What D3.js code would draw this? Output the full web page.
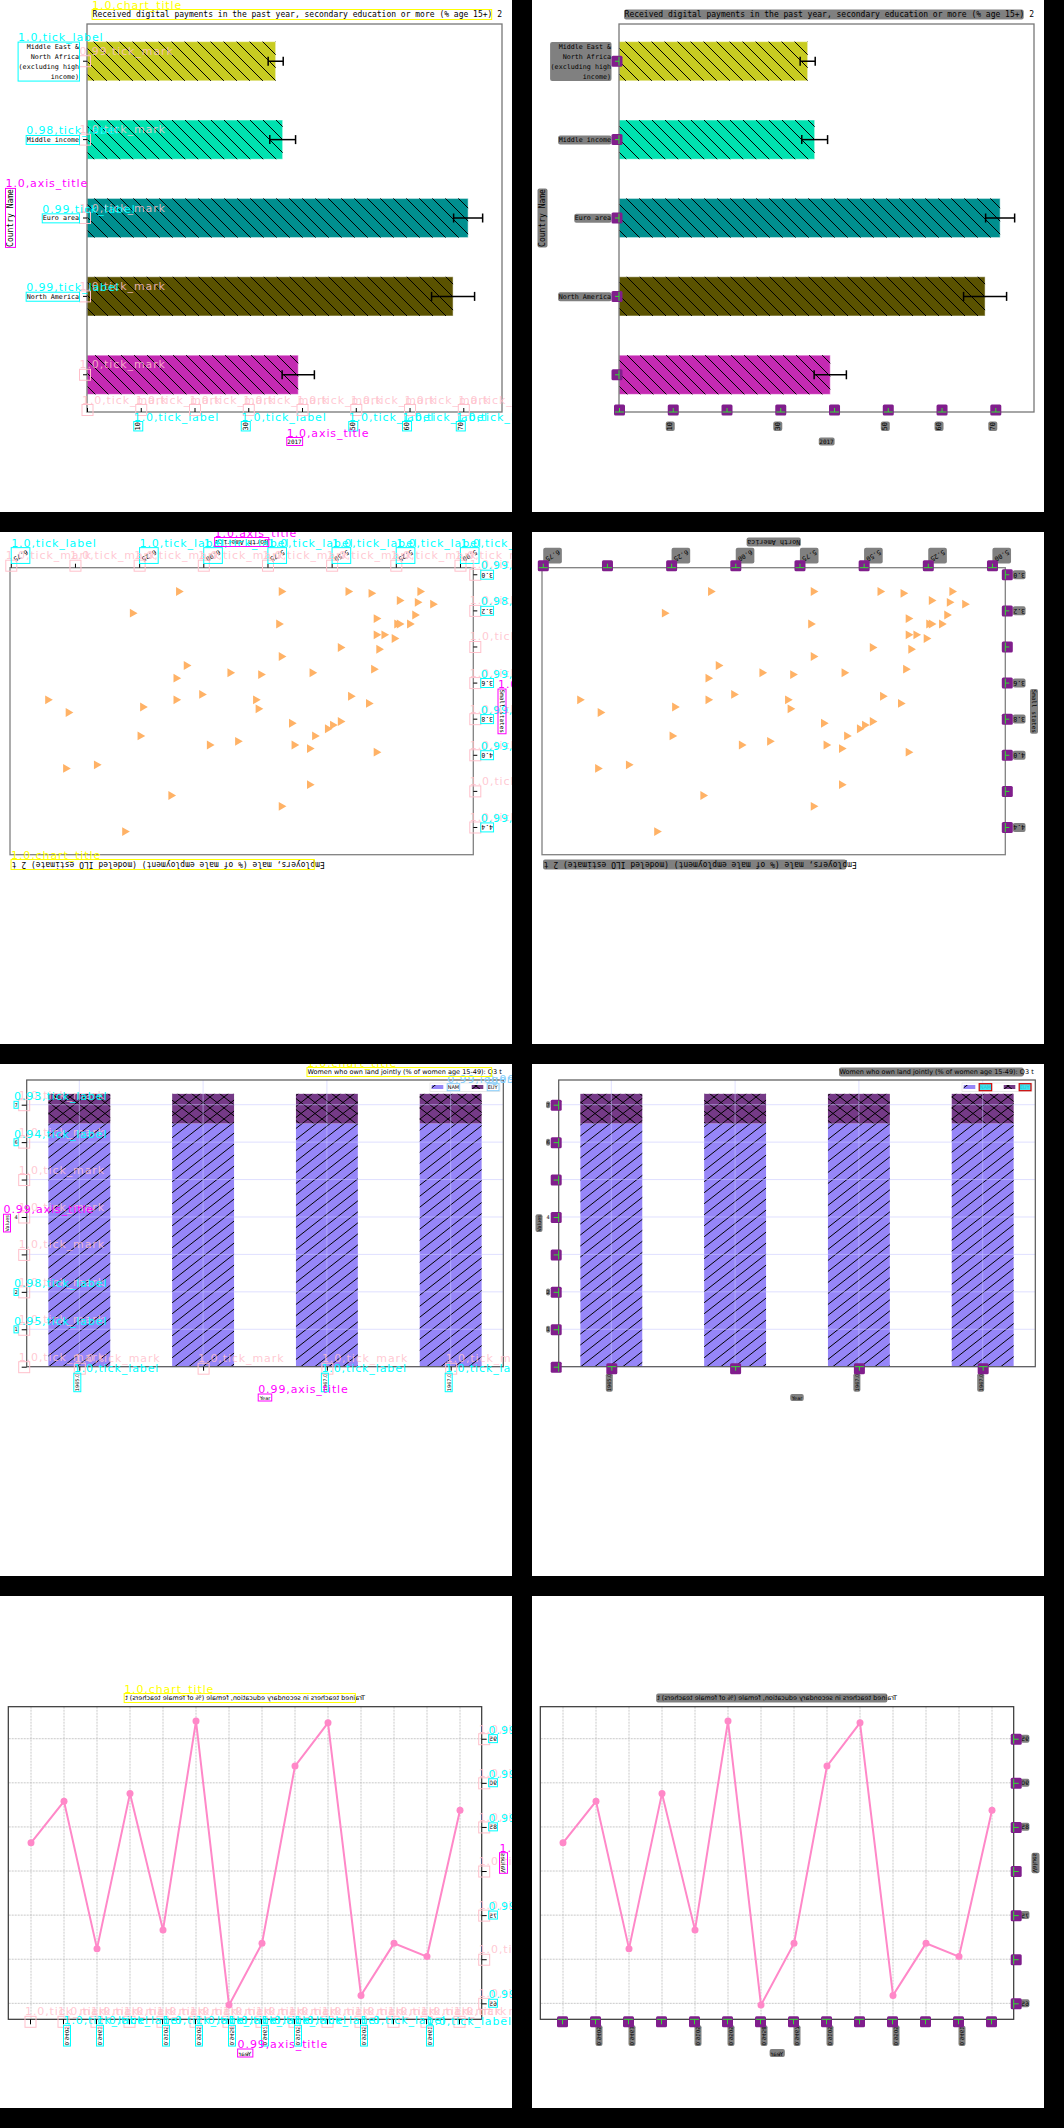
<!DOCTYPE html>
<html>
<head>
<meta charset="utf-8">
<script src="https://cdn.jsdelivr.net/npm/d3@7"></script>
<style>
  body { margin: 0; background: #000; }
  svg { display: block; }
</style>
</head>
<body>
<svg id="page" width="1064" height="2128"></svg>
<script>

// chart 1 - digital payments 2017 (horizontal bars)
var payRegions = ["Middle East &|North Africa|(excluding high|income)", "Middle income", "Euro area", "North America", ""]
var payValues = [35.1, 36.4, 70.9, 68.1, 39.3]
var payErrors = [1.4, 2.4, 2.7, 4.0, 3.0]
var payTicks = [0, 10, 20, 30, 40, 50, 60, 70]
var payTickLabels = ["", "10", "", "30", "", "50", "60", "70"]
var payLabelScores = ["1.0", "0.98", "0.99", "0.99", ""]
var payMarkScores = ["0.99", "1.0", "1.0", "1.0", "1.0"]
var payColors = ["#c8cc22", "#00e2b0", "#008f8f", "#5a5200", "#c42ab2"]

// chart 2 - employers, male (scatter, shown upside down)
var empX = [6.10, 5.70, 5.44, 5.35, 5.16, 5.24, 5.17, 5.11, 6.28, 5.18, 5.71, 5.33, 5.25, 5.24, 5.20, 5.33, 5.30, 5.26, 5.47, 5.32, 5.70, 6.07, 5.90, 5.78, 5.58, 5.34, 6.11, 6.01, 6.11, 6.61, 5.80, 5.79, 5.43, 5.36, 6.24, 6.53, 5.66, 5.47, 5.50, 5.52, 5.57, 6.25, 5.98, 5.87, 5.65, 5.59, 5.33, 6.54, 6.42, 5.59, 6.13, 5.70, 6.31]
var empY = [3.09, 3.09, 3.09, 3.10, 3.09, 3.14, 3.15, 3.16, 3.21, 3.22, 3.27, 3.24, 3.27, 3.27, 3.27, 3.33, 3.33, 3.35, 3.40, 3.41, 3.45, 3.50, 3.54, 3.55, 3.54, 3.52, 3.57, 3.66, 3.69, 3.69, 3.69, 3.74, 3.67, 3.71, 3.73, 3.76, 3.82, 3.81, 3.83, 3.85, 3.89, 3.89, 3.94, 3.92, 3.94, 3.96, 3.98, 4.07, 4.05, 4.16, 4.22, 4.28, 4.42]
var empXTicks = [5.00, 5.25, 5.50, 5.75, 6.00, 6.25, 6.50, 6.75]
var empXTickLabels = ["5.00", "5.25", "5.50", "5.75", "6.00", "6.25", "", "6.75"]
var empYTicks = [3.0, 3.2, 3.4, 3.6, 3.8, 4.0, 4.2, 4.4]
var empYTickLabels = ["3.0", "3.2", "", "3.6", "3.8", "4.0", "", "4.4"]
var empYScores = ["0.99", "0.98", "", "0.99", "0.99", "0.99", "", "0.99"]

// chart 3 - women who own land jointly (stacked bars)
var landYears = [1965, 1966, 1967, 1968]
var landXTickLabels = ["1965.0", "", "1967.0", "1967.0"]
var landSeries = ["NAM", "EUY"]
var landNAM = [6.5, 6.5, 6.5, 6.5]
var landEUY = [0.79, 0.79, 0.79, 0.79]
var landYTicks = [0, 1, 2, 3, 4, 5, 6, 7]
var landYTickLabels = ["", "1", "2", "", "4", "", "6", "7"]
var landYScores = ["", "0.95", "0.98", "", "", "", "0.94", "0.93"]

// chart 4 - trained teachers (line, shown mirrored)
var teachValues = [86.9, 70.3, 71.8, 65.9, 96.8, 91.9, 71.8, 64.8, 97.0, 73.3, 88.8, 71.2, 87.9, 83.2]
var teachXTickLabels = ["", "0.9461", "", "0.9505", "", "0.9105", "0.9467", "0.9458", "0.9505", "0.9105", "", "0.9463", "0.9405", ""]
var teachYTicks = [65, 70, 75, 80, 85, 90, 95]
var teachYTickLabels = ["65", "", "75", "", "85", "90", "95"]

var mono = "DejaVu Sans Mono"
var sans = "DejaVu Sans"
var kindColors = { chart_title: "#ffff00", axis_title: "#ff00ff", tick_label: "#00ffff", tick_mark: "#ffc0cb", legend_label: "#87cefa" }

var svg = d3.select("#page")
svg.append("rect").attr("width", 1064).attr("height", 2128).attr("fill", "#000")
var defs = svg.append("defs")

function hatch(id, w, h, d) {
  defs.append("pattern").attr("id", id).attr("patternUnits", "userSpaceOnUse")
    .attr("width", w).attr("height", h)
    .append("path").attr("d", d).attr("stroke", "#000").attr("stroke-width", 1).attr("fill", "none")
}
hatch("backslash", 13, 13, "M0,0L13,13M10.4,-2.6L15.6,2.6M-2.6,10.4L2.6,15.6")
hatch("slash", 14, 11, "M0,11L14,0M-2.8,2.2L2.8,-2.2M11.2,13.2L16.8,8.8")
hatch("cross", 14, 11, "M0,11L14,0M-2.8,2.2L2.8,-2.2M11.2,13.2L16.8,8.8M0,0L14,11M11.2,-2.2L16.8,2.2M-2.8,8.8L2.8,13.2")

function tag(sel, kind, score) {
  sel.attr("data-kind", kind).attr("data-score", score)
}

function makePanel(row, col) {
  var x0 = col * 532, y0 = row * 532
  var id = "clip" + row + "_" + col
  defs.append("clipPath").attr("id", id).append("rect").attr("width", 512).attr("height", 512)
  var p = svg.append("g").attr("transform", "translate(" + x0 + "," + y0 + ")").attr("clip-path", "url(#" + id + ")")
  p.append("rect").attr("width", 512).attr("height", 512).attr("fill", "#fff")
  return { x0: x0, y0: y0, under: p.append("g"), chart: p.append("g"), over: p.append("g"), mode: col == 0 ? "annot" : "mask" }
}

function drawPayments(g) {
  var x = d3.scaleLinear().domain([0, 77.2]).range([87, 502])
  var y = d3.scaleBand().domain(d3.range(payValues.length)).range([24, 412]).paddingInner(0.5).paddingOuter(0.225)

  var bars = g.append("g").selectAll("g").data(payValues).join("g")
  bars.append("rect").attr("x", x(0)).attr("y", (d, i) => y(i))
    .attr("width", d => x(d) - x(0)).attr("height", y.bandwidth())
    .attr("fill", (d, i) => payColors[i]).attr("stroke", "#fff").attr("stroke-opacity", 0.5)
  bars.append("rect").attr("x", x(0)).attr("y", (d, i) => y(i))
    .attr("width", d => x(d) - x(0)).attr("height", y.bandwidth()).attr("fill", "url(#backslash)")

  // error bars
  bars.each(function (d, i) {
    var cy = y(i) + y.bandwidth() / 2, lo = x(d - payErrors[i]), hi = x(d + payErrors[i])
    var e = d3.select(this).append("g").attr("stroke", "#000").attr("stroke-width", 1.5)
    e.append("line").attr("x1", lo).attr("x2", hi).attr("y1", cy).attr("y2", cy)
    e.append("line").attr("x1", lo).attr("x2", lo).attr("y1", cy - 4.5).attr("y2", cy + 4.5)
    e.append("line").attr("x1", hi).attr("x2", hi).attr("y1", cy - 4.5).attr("y2", cy + 4.5)
  })

  g.append("rect").attr("x", 87).attr("y", 24).attr("width", 415).attr("height", 388)
    .attr("fill", "none").attr("stroke", "#777").attr("stroke-width", 1.3)

  var xa = g.append("g").attr("transform", "translate(0,412)")
    .call(d3.axisBottom(x).tickValues(payTicks).tickFormat((d, i) => payTickLabels[i]).tickSize(-4).tickSizeOuter(0))
  xa.attr("font-family", mono).attr("font-size", 7)
  xa.select(".domain").remove()
  tag(xa.selectAll(".tick line"), "tick_mark", "1.0")
  xa.selectAll(".tick text").attr("y", null).attr("dy", null).attr("text-anchor", "end")
    .attr("transform", "translate(-1,10) rotate(-90)")
  tag(xa.selectAll(".tick text").filter((d, i) => payTickLabels[i] != ""), "tick_label", "1.0")

  var ya = g.append("g").attr("transform", "translate(87,0)")
    .call(d3.axisLeft(y).tickFormat(() => "").tickSize(4).tickSizeOuter(0))
  ya.attr("font-family", mono).attr("font-size", 6.7)
  ya.select(".domain").remove()
  ya.selectAll(".tick line").each(function (d, i) { tag(d3.select(this), "tick_mark", payMarkScores[i]) })
  ya.selectAll(".tick text").each(function (d, i) {
    if (payRegions[i] == "") return
    var lines = payRegions[i].split("|")
    var t = d3.select(this).attr("dy", null).attr("text-anchor", "end")
    lines.forEach(function (line, k) {
      t.append("tspan").attr("x", -8).attr("y", (k - (lines.length - 1) / 2) * 10).attr("dy", "0.35em").text(line)
    })
    tag(t, "tick_label", payLabelScores[i])
  })

  tag(g.append("text").attr("x", 502).attr("y", 17).attr("text-anchor", "end")
    .attr("font-family", mono).attr("font-size", 8)
    .text("Received digital payments in the past year, secondary education or more  (% age 15+) 2"), "chart_title", "1.0")
  tag(g.append("text").attr("x", 294.5).attr("y", 444).attr("text-anchor", "middle")
    .attr("font-family", mono).attr("font-size", 6).text("2017"), "axis_title", "1.0")
  tag(g.append("text").attr("transform", "translate(13,218) rotate(-90)").attr("text-anchor", "middle")
    .attr("font-family", mono).attr("font-size", 8).text("Country Name"), "axis_title", "1.0")
}

function drawEmployers(g) {
  g.attr("transform", "rotate(180,256,256)")
  var x = d3.scaleLinear().domain([4.952, 6.757]).range([38.7, 502])
  var y = d3.scaleLinear().domain([2.958, 4.548]).range([476.3, 189.3])

  g.append("g").selectAll("path").data(empX).join("path")
    .attr("d", d3.symbol().type(d3.symbolTriangle).size(34))
    .attr("transform", (d, i) => "translate(" + x(d) + "," + y(empY[i]) + ") rotate(-90)")
    .attr("fill", "#ffb266")

  g.append("rect").attr("x", 38.7).attr("y", 189.3).attr("width", 463.3).attr("height", 287)
    .attr("fill", "none").attr("stroke", "#808080").attr("stroke-width", 1.3)

  var xa = g.append("g").attr("transform", "translate(0,476.3)")
    .call(d3.axisBottom(x).tickValues(empXTicks).tickFormat((d, i) => empXTickLabels[i]).tickSize(4).tickSizeOuter(0))
  xa.attr("font-family", mono).attr("font-size", 6.5)
  xa.select(".domain").remove()
  tag(xa.selectAll(".tick line"), "tick_mark", "1.0")
  xa.selectAll(".tick text").attr("y", null).attr("dy", null).attr("text-anchor", "end")
    .attr("transform", "translate(-1.5,10) rotate(-30)")
  tag(xa.selectAll(".tick text").filter((d, i) => empXTickLabels[i] != ""), "tick_label", "1.0")

  var ya = g.append("g").attr("transform", "translate(38.7,0)")
    .call(d3.axisLeft(y).tickValues(empYTicks).tickFormat((d, i) => empYTickLabels[i]).tickSize(4).tickPadding(4).tickSizeOuter(0))
  ya.attr("font-family", mono).attr("font-size", 6.5)
  ya.select(".domain").remove()
  tag(ya.selectAll(".tick line"), "tick_mark", "1.0")
  ya.selectAll(".tick text").each(function (d, i) {
    if (empYTickLabels[i] != "") tag(d3.select(this), "tick_label", empYScores[i])
  })

  tag(g.append("text").attr("x", 500.3).attr("y", 182).attr("text-anchor", "end")
    .attr("font-family", mono).attr("font-size", 8)
    .text("Employers, male (% of male employment) (modeled ILO estimate) 2 t"), "chart_title", "1.0")
  tag(g.append("text").attr("x", 270.3).attr("y", 504).attr("text-anchor", "middle")
    .attr("font-family", mono).attr("font-size", 6.8).text("North America"), "axis_title", "1.0")
  tag(g.append("text").attr("transform", "translate(12.5,332.8) rotate(-90)").attr("text-anchor", "middle")
    .attr("font-family", mono).attr("font-size", 6).text("Small states"), "axis_title", "1.0")
}

function drawLand(g) {
  var x = d3.scaleLinear().domain([1964.575, 1968.425]).range([26.7, 503.3])
  var y = d3.scaleLinear().domain([0, 7.66]).range([302.7, 16])
  var half = 0.25

  var bars = g.append("g").selectAll("g").data(landYears).join("g")
  bars.append("rect").attr("x", d => x(d - half)).attr("width", d => x(d + half) - x(d - half))
    .attr("y", (d, i) => y(landNAM[i])).attr("height", (d, i) => y(0) - y(landNAM[i])).attr("fill", "#9686f8")
  bars.append("rect").attr("x", d => x(d - half)).attr("width", d => x(d + half) - x(d - half))
    .attr("y", (d, i) => y(landNAM[i])).attr("height", (d, i) => y(0) - y(landNAM[i])).attr("fill", "url(#slash)")
  bars.append("rect").attr("x", d => x(d - half)).attr("width", d => x(d + half) - x(d - half))
    .attr("y", (d, i) => y(landNAM[i] + landEUY[i])).attr("height", (d, i) => y(landNAM[i]) - y(landNAM[i] + landEUY[i])).attr("fill", "#753a87")
  bars.append("rect").attr("x", d => x(d - half)).attr("width", d => x(d + half) - x(d - half))
    .attr("y", (d, i) => y(landNAM[i] + landEUY[i])).attr("height", (d, i) => y(landNAM[i]) - y(landNAM[i] + landEUY[i])).attr("fill", "url(#cross)")

  // grid on top, light
  var grid = g.append("g").attr("stroke", "#c8c8ff").attr("stroke-opacity", 0.7).attr("stroke-width", 0.8)
  grid.selectAll(".h").data(landYTicks).join("line").attr("x1", 26.7).attr("x2", 503.3).attr("y1", d => y(d)).attr("y2", d => y(d))
  grid.selectAll(".v").data(landYears).join("line").attr("y1", 16).attr("y2", 302.7).attr("x1", d => x(d)).attr("x2", d => x(d))

  g.append("rect").attr("x", 26.7).attr("y", 16).attr("width", 476.6).attr("height", 286.7)
    .attr("fill", "none").attr("stroke", "#555").attr("stroke-width", 1.2)

  var xa = g.append("g").attr("transform", "translate(0,302.7)")
    .call(d3.axisBottom(x).tickValues(landYears).tickFormat((d, i) => landXTickLabels[i]).tickSize(4).tickSizeOuter(0))
  xa.attr("font-family", sans).attr("font-size", 5)
  xa.select(".domain").remove()
  tag(xa.selectAll(".tick line"), "tick_mark", "1.0")
  xa.selectAll(".tick text").attr("y", null).attr("dy", null).attr("text-anchor", "end")
    .attr("transform", "translate(-0.5,7) rotate(-90)")
  tag(xa.selectAll(".tick text").filter((d, i) => landXTickLabels[i] != ""), "tick_label", "1.0")

  var ya = g.append("g").attr("transform", "translate(26.7,0)")
    .call(d3.axisLeft(y).tickValues(landYTicks).tickFormat((d, i) => landYTickLabels[i]).tickSize(5).tickPadding(4).tickSizeOuter(0))
  ya.attr("font-family", sans).attr("font-size", 5)
  ya.select(".domain").remove()
  tag(ya.selectAll(".tick line"), "tick_mark", "1.0")
  ya.selectAll(".tick text").each(function (d, i) {
    if (landYScores[i] != "") tag(d3.select(this), "tick_label", landYScores[i])
  })

  // legend
  var lg = g.append("g")
  lg.append("rect").attr("x", 430).attr("y", 19).attr("width", 70).attr("height", 8.3)
    .attr("fill", "#fff").attr("stroke", "#ddd").attr("stroke-width", 0.6)
  var fills = ["#9686f8", "#753a87"], hatches = ["url(#slash)", "url(#cross)"]
  landSeries.forEach(function (name, k) {
    var lx = 431.7 + k * 40
    lg.append("rect").attr("x", lx).attr("y", 21).attr("width", 11.6).attr("height", 4).attr("fill", fills[k])
    lg.append("rect").attr("x", lx).attr("y", 21).attr("width", 11.6).attr("height", 4).attr("fill", hatches[k])
    tag(lg.append("text").attr("x", lx + 16).attr("y", 25.2).attr("font-family", sans).attr("font-size", 5)
      .text(name), "legend_label", "0.99")
  })

  tag(g.append("text").attr("x", 501.7).attr("y", 10).attr("text-anchor", "end")
    .attr("font-family", sans).attr("font-size", 6.5)
    .text("Women who own land jointly (% of women age 15-49): Q3 t"), "chart_title", "1.0")
  tag(g.append("text").attr("x", 265).attr("y", 335.5).attr("text-anchor", "middle")
    .attr("font-family", sans).attr("font-size", 5).text("Year"), "axis_title", "0.99")
  tag(g.append("text").attr("transform", "translate(9,159.3) rotate(-90)").attr("text-anchor", "middle")
    .attr("font-family", sans).attr("font-size", 5).text("Values"), "axis_title", "0.99")
}

function drawTeachers(g) {
  g.attr("transform", "translate(512,0) scale(-1,1)")
  var x = d3.scalePoint().domain(d3.range(teachValues.length)).range([52, 481])
  var y = d3.scaleLinear().domain([63.19, 98.63]).range([423.3, 110.7])

  var grid = g.append("g").attr("stroke", "#bbb").attr("stroke-width", 0.8).attr("stroke-dasharray", "2,1")
  grid.selectAll(".v").data(d3.range(teachValues.length)).join("line")
    .attr("x1", d => x(d)).attr("x2", d => x(d)).attr("y1", 110.7).attr("y2", 423.3)
  grid.selectAll(".h").data(teachYTicks).join("line")
    .attr("x1", 30.3).attr("x2", 503.7).attr("y1", d => y(d)).attr("y2", d => y(d))

  g.append("path").datum(teachValues)
    .attr("d", d3.line().x((d, i) => x(i)).y(d => y(d)))
    .attr("fill", "none").attr("stroke", "#ff88c8").attr("stroke-width", 2)
  g.append("g").selectAll("circle").data(teachValues).join("circle")
    .attr("cx", (d, i) => x(i)).attr("cy", d => y(d)).attr("r", 3.5).attr("fill", "#ff88c8")

  g.append("rect").attr("x", 30.3).attr("y", 110.7).attr("width", 473.4).attr("height", 312.6)
    .attr("fill", "none").attr("stroke", "#333").attr("stroke-width", 1.2)

  var xa = g.append("g").attr("transform", "translate(0,423.3)")
    .call(d3.axisBottom(x).tickFormat((d, i) => teachXTickLabels[i]).tickSize(5).tickSizeOuter(0))
  xa.attr("font-family", sans).attr("font-size", 5.5)
  xa.select(".domain").remove()
  tag(xa.selectAll(".tick line"), "tick_mark", "1.0")
  xa.selectAll(".tick text").attr("y", null).attr("dy", null).attr("text-anchor", "end")
    .attr("transform", "translate(-1.5,7) rotate(-90)")
  tag(xa.selectAll(".tick text").filter((d, i) => teachXTickLabels[i] != ""), "tick_label", "1.0")

  var ya = g.append("g").attr("transform", "translate(30.3,0)")
    .call(d3.axisLeft(y).tickValues(teachYTicks).tickFormat((d, i) => teachYTickLabels[i]).tickSize(5).tickPadding(2.6).tickSizeOuter(0))
  ya.attr("font-family", sans).attr("font-size", 6)
  ya.select(".domain").remove()
  tag(ya.selectAll(".tick line"), "tick_mark", "1.0")
  tag(ya.selectAll(".tick text").filter((d, i) => teachYTickLabels[i] != ""), "tick_label", "0.99")

  tag(g.append("text").attr("x", 267).attr("y", 104).attr("text-anchor", "middle")
    .attr("font-family", sans).attr("font-size", 6.5)
    .text("Trained teachers in secondary education, female (% of female teachers) t"), "chart_title", "1.0")
  tag(g.append("text").attr("x", 267).attr("y", 459.5).attr("text-anchor", "middle")
    .attr("font-family", sans).attr("font-size", 6).text("Year"), "axis_title", "0.99")
  tag(g.append("text").attr("transform", "translate(11,267) rotate(-90)").attr("text-anchor", "middle")
    .attr("font-family", sans).attr("font-size", 6).text("Values"), "axis_title", "1.0")
}

// boxes + labels (left column) or grey/purple masks (right column)
function annotate(P) {
  var root = svg.node()
  var rb = root.getBoundingClientRect()
  P.chart.selectAll("[data-kind]").each(function () {
    var el = this
    var kind = el.getAttribute("data-kind")
    var score = el.getAttribute("data-score")
    var r = el.getBoundingClientRect()
    var bx = r.left - rb.left - P.x0, by = r.top - rb.top - P.y0, bw = r.width, bh = r.height
    if (kind == "tick_mark") {
      var cx = bx + bw / 2, cy = by + bh / 2
      bx = cx - 5.5; by = cy - 5.5; bw = 11; bh = 11
    } else {
      bx -= 0.5; by -= 0.5; bw += 1; bh += 1
    }
    if (kind == "chart_title") bw -= 11

    if (P.mode == "annot") {
      P.over.append("rect").attr("x", bx).attr("y", by).attr("width", bw).attr("height", bh)
        .attr("fill", "none").attr("stroke", kindColors[kind]).attr("stroke-width", 1)
      P.over.append("text").attr("x", bx).attr("y", by - 1)
        .attr("font-family", sans).attr("font-size", 11).attr("letter-spacing", 0.9)
        .attr("fill", kindColors[kind]).attr("fill-opacity", kind == "tick_mark" ? 0.85 : 1)
        .text(score + "," + kind)
    } else if (kind == "tick_mark") {
      P.over.append("rect").attr("x", bx).attr("y", by).attr("width", bw).attr("height", bh)
        .attr("rx", 1.5).attr("fill", "#801e8c")
      var m = el.getCTM()
      var p1 = root.createSVGPoint(), p2 = root.createSVGPoint()
      p2.x = +(el.getAttribute("x2") || 0); p2.y = +(el.getAttribute("y2") || 0)
      p1 = p1.matrixTransform(m); p2 = p2.matrixTransform(m)
      var gr = P.over.append("g").attr("stroke", "#33dd33").attr("stroke-width", 1)
      gr.append("line").attr("x1", p1.x - P.x0).attr("y1", p1.y - P.y0).attr("x2", p2.x - P.x0).attr("y2", p2.y - P.y0)
      if (Math.abs(p2.x - p1.x) < Math.abs(p2.y - p1.y)) {
        gr.append("line").attr("x1", bx + 1).attr("x2", bx + bw - 1).attr("y1", p1.y - P.y0).attr("y2", p1.y - P.y0)
      } else {
        gr.append("line").attr("y1", by + 1).attr("y2", by + bh - 1).attr("x1", p1.x - P.x0).attr("x2", p1.x - P.x0)
      }
    } else if (kind == "legend_label") {
      P.over.append("rect").attr("x", bx).attr("y", by).attr("width", bw).attr("height", bh)
        .attr("fill", "#22e0ee").attr("fill-opacity", 0.85).attr("stroke", "#d40000").attr("stroke-width", 1.2)
    } else {
      P.under.append("rect").attr("x", bx).attr("y", by).attr("width", bw).attr("height", bh)
        .attr("rx", 2).attr("fill", "#808080")
    }
  })
}

var charts = [drawPayments, drawEmployers, drawLand, drawTeachers]
charts.forEach(function (draw, row) {
  [0, 1].forEach(function (col) {
    var P = makePanel(row, col)
    draw(P.chart)
    annotate(P)
  })
})

</script>
</body>
</html>
